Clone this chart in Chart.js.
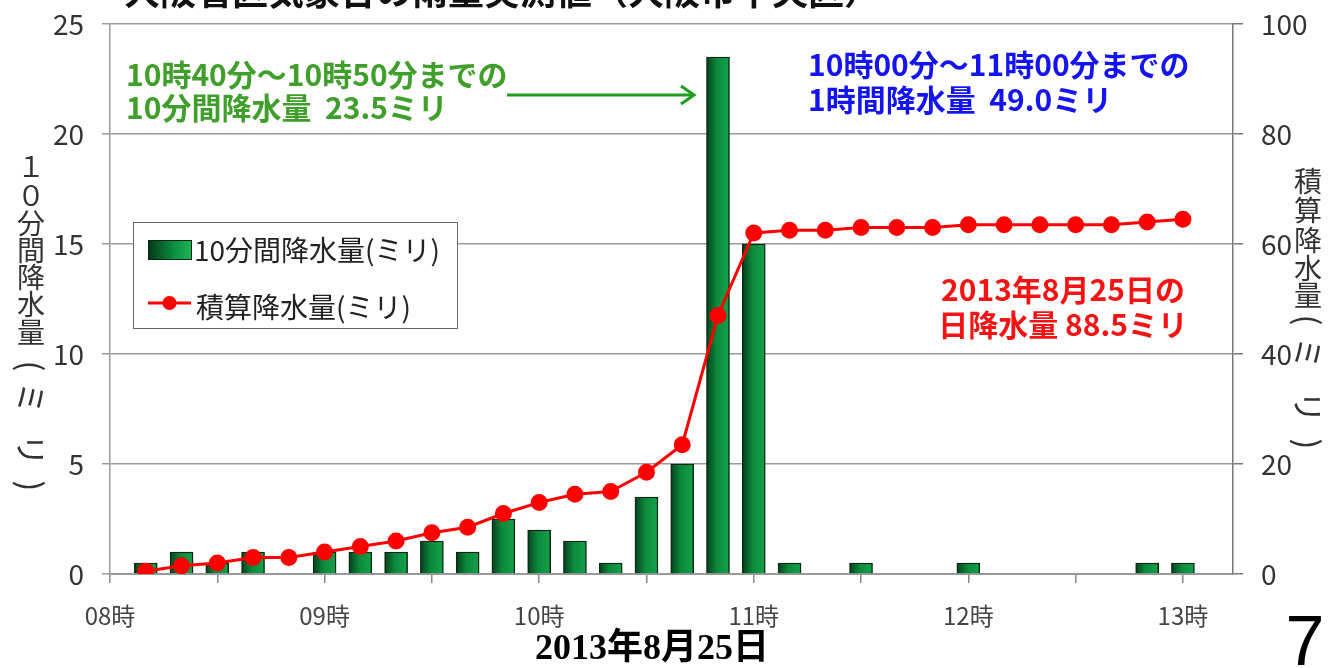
<!DOCTYPE html>
<html><head><meta charset="utf-8">
<script src="https://cdn.jsdelivr.net/npm/chart.js@4.4.0/dist/chart.umd.min.js"></script>
<style>html,body{margin:0;padding:0;background:#fff;} #wrap{width:1342px;height:668px;position:relative;}</style>
</head><body><div id="wrap"><canvas id="c" width="1342" height="668"></canvas></div>
<script>
// ---- data ----
const times = ['08:10','08:20','08:30','08:40','08:50','09:00','09:10','09:20','09:30','09:40','09:50','10:00','10:10','10:20','10:30','10:40','10:50','11:00','11:10','11:20','11:30','11:40','11:50','12:00','12:10','12:20','12:30','12:40','12:50','13:00'];
const rain10 = [0.5,1.0,0.5,1.0,0,1.0,1.0,1.0,1.5,1.0,2.5,2.0,1.5,0.5,3.5,5.0,23.5,15.0,0.5,0,0.5,0,0,0.5,0,0,0,0,0.5,0.5];
const cumulative = [0.5,1.5,2.0,3.0,3.0,4.0,5.0,6.0,7.5,8.5,11.0,13.0,14.5,15.0,18.5,23.5,47.0,62.0,62.5,62.5,63.0,63.0,63.0,63.5,63.5,63.5,63.5,63.5,64.0,64.5];
const hourLabels = ['08時','09時','10時','11時','12時','13時'];
const seriesNames = ['10分間降水量(ミリ)','積算降水量(ミリ)'];
const titleText = '大阪管区気象台の雨量実測値（大阪市中央区）';
const leftAxisChars = ['１','０','分','間','降','水','量'];
const rightAxisChars = ['積','算','降','水','量'];
const unitChars = ['(','ミ','リ',')'];
const dateText = '2013年8月25日';
const pageNo = '7';
const noteGreen = ['10時40分～10時50分までの','10分間降水量  23.5ミリ'];
const noteBlue = ['10時00分～11時00分までの','1時間降水量  49.0ミリ'];
const noteRed = ['2013年8月25日の','日降水量 88.5ミリ'];

const JP = '"Noto Sans CJK JP", "Noto Sans", sans-serif';
function toMin(t){const p=t.split(':').map(Number);return (p[0]-8)*60+p[1];}

const barData = times.map((t,i)=>({x:toMin(t),y:rain10[i]}));
const lineData = times.map((t,i)=>({x:toMin(t),y:cumulative[i]}));

function barGrad(c){
  const chart=c.chart;
  if(!chart.chartArea || c.type!=='data' || !c.parsed) return '#0b8a3c';
  const px=chart.scales.x.getPixelForValue(c.parsed.x);
  const g=chart.ctx.createLinearGradient(px-11.5,0,px+11.5,0);
  g.addColorStop(0,'#04401c');g.addColorStop(0.45,'#0b8a3c');g.addColorStop(1,'#14a24b');
  return g;
}

const overlay = {
  id:'overlay',
  afterDraw(chart){
    const ctx=chart.ctx;
    ctx.save();
    // cropped title
    ctx.fillStyle='#111';ctx.font='bold 36px '+JP;ctx.textAlign='left';ctx.textBaseline='alphabetic';
    ctx.fillText(titleText,124,5);
    // legend
    ctx.fillStyle='#fff';ctx.fillRect(133.5,222.5,324,106);
    ctx.strokeStyle='#666';ctx.lineWidth=1;ctx.strokeRect(133.5,222.5,324,106);
    const g=ctx.createLinearGradient(148,0,192,0);
    g.addColorStop(0,'#03361a');g.addColorStop(0.6,'#0c9040');g.addColorStop(1,'#1fb456');
    ctx.fillStyle=g;ctx.fillRect(148,240,44,20);
    ctx.strokeStyle='#0a2a10';ctx.strokeRect(148.5,240.5,43,19);
    ctx.fillStyle='#222';ctx.font='28px '+JP;ctx.textBaseline='middle';
    ctx.fillText(seriesNames[0],194,250);
    ctx.strokeStyle='#ff0000';ctx.lineWidth=3;ctx.beginPath();ctx.moveTo(148,303);ctx.lineTo(191,303);ctx.stroke();
    ctx.fillStyle='#ff0000';ctx.beginPath();ctx.arc(169.5,303,7,0,Math.PI*2);ctx.fill();
    ctx.fillStyle='#222';ctx.fillText(seriesNames[1],196,307);
    // notes
    ctx.font='bold 30px '+JP;
    ctx.fillStyle='#3f9f2a';ctx.fillText(noteGreen[0],126,75);ctx.fillText(noteGreen[1],126,108);
    ctx.fillStyle='#1414f0';ctx.fillText(noteBlue[0],808,65);ctx.fillText(noteBlue[1],808,100);
    ctx.fillStyle='#f41414';ctx.textAlign='center';ctx.fillText(noteRed[0],1063,290);ctx.fillText(noteRed[1],1063,325);
    // arrow
    ctx.strokeStyle='#1e9e1e';ctx.lineWidth=3;ctx.beginPath();ctx.moveTo(507,95);ctx.lineTo(693,95);ctx.stroke();
    ctx.beginPath();ctx.moveTo(681,86);ctx.lineTo(694,95);ctx.lineTo(681,104);ctx.stroke();
    // axis titles (vertical)
    ctx.fillStyle='#333';ctx.font='28px '+JP;ctx.textAlign='center';ctx.textBaseline='middle';
    const lY=[166,195,223,250,277,304,332];
    leftAxisChars.forEach((ch,i)=>ctx.fillText(ch,31,lY[i]));
    const rY=[181,210,240,268,295];
    rightAxisChars.forEach((ch,i)=>ctx.fillText(ch,1308,rY[i]));
    function rot(ch,x,y){ctx.save();ctx.translate(x,y);ctx.rotate(Math.PI/2);ctx.fillText(ch,0,0);ctx.restore();}
    ctx.font='32px '+JP;
    const luY=[366,398,450,486], ruY=[320,353,407,444];
    unitChars.forEach((ch,i)=>{rot(ch,31,luY[i]);rot(ch,1308,ruY[i]);});
    // date under axis
    ctx.fillStyle='#000';ctx.font='bold 36px "Liberation Serif", "Noto Sans CJK JP", serif';
    ctx.textAlign='center';ctx.fillText(dateText,652,650);
    // page number
    ctx.font='70px "Liberation Sans", sans-serif';ctx.textBaseline='alphabetic';
    ctx.fillText(pageNo,1305,665);
    ctx.restore();
  }
};

new Chart(document.getElementById('c'),{
  type:'bar',
  data:{datasets:[
    {type:'line',label:seriesNames[1],data:lineData,yAxisID:'y1',xAxisID:'x',order:0,
     borderColor:'#ff0000',backgroundColor:'#ff0000',borderWidth:3,pointRadius:7,pointHoverRadius:7,
     pointBackgroundColor:'#ff0000',pointBorderColor:'#ff0000',tension:0,fill:false},
    {type:'bar',label:seriesNames[0],data:barData,yAxisID:'y',xAxisID:'x',order:1,
     backgroundColor:barGrad,borderColor:'#0a2a10',borderWidth:1.5,barThickness:23,borderSkipped:'bottom'}
  ]},
  options:{
    responsive:false,animation:false,
    layout:{padding:{top:24,left:0,right:0,bottom:0}},
    plugins:{legend:{display:false},title:{display:false},tooltip:{enabled:false}},
    scales:{
      x:{type:'linear',min:0,max:314,offset:false,position:'bottom',
        afterBuildTicks(s){s.ticks=[0,30,60,90,120,150,180,210,240,270,300].map(v=>({value:v}));},
        afterFit(s){s.height=94;s.paddingLeft=0;s.paddingRight=0;},
        ticks:{autoSkip:false,maxRotation:0,padding:18,color:'#444',font:{family:JP,size:24},
          callback:(v)=> (v%60===0? hourLabels[v/60] : '')},
        grid:{drawOnChartArea:false,drawTicks:true,tickLength:9,color:'#888',lineWidth:1.5,offset:false},
        border:{display:true,color:'#999',width:2}},
      y:{type:'linear',position:'left',min:0,max:25,
        afterFit(s){s.width=110;s.paddingTop=0;s.paddingBottom=0;},
        ticks:{stepSize:5,padding:18,color:'#333',font:{family:JP,size:28}},
        grid:{color:'#999',lineWidth:1.5,tickLength:8,drawTicks:true},
        border:{display:true,color:'#999',width:1.5}},
      y1:{type:'linear',position:'right',min:0,max:100,
        afterFit(s){s.width=109;s.paddingTop=0;s.paddingBottom=0;},
        ticks:{stepSize:20,padding:18,color:'#333',font:{family:JP,size:28}},
        grid:{drawOnChartArea:false,tickLength:10,drawTicks:true,color:'#777',lineWidth:1.5},
        border:{display:true,color:'#777',width:1.5}}
    }
  },
  plugins:[overlay]
});
</script>
</body></html>
